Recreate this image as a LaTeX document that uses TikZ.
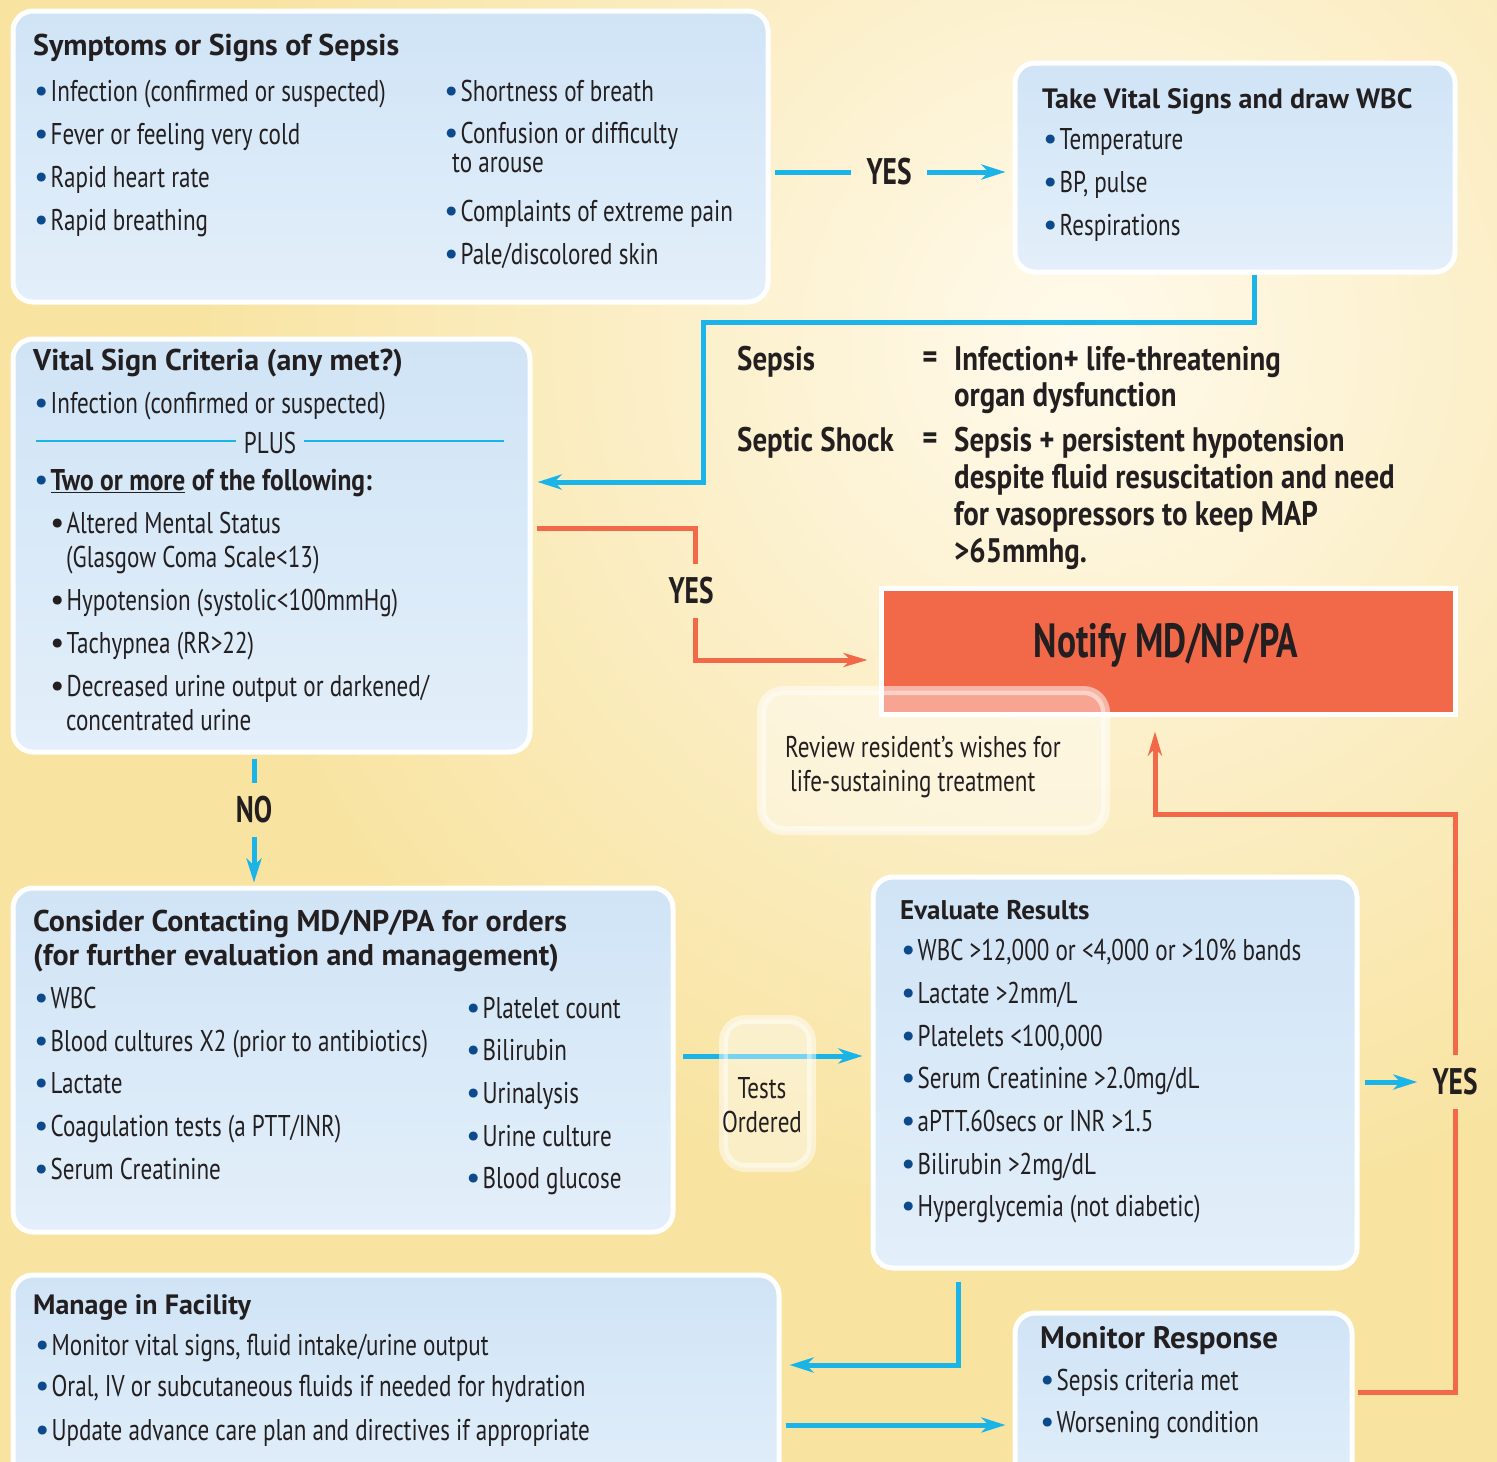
\documentclass[tikz,border=0pt]{standalone}
\usepackage{fontspec}
\setmainfont{PT Sans}[FakeStretch=0.77]
\newfontfamily\headfont{PT Sans}
\newfontfamily\condfont{PT Sans}[FakeStretch=0.74]
\newfontfamily\deffont{PT Sans}[FakeStretch=0.85]
\newfontfamily\bulfont{PT Sans}
\usepackage{tikz}
\usetikzlibrary{arrows.meta, calc, positioning}
\definecolor{bgyellow}{HTML}{F8E3A0}
\definecolor{bglight}{HTML}{FFFAEC}
\definecolor{boxtop}{HTML}{D0E4F6}
\definecolor{boxbot}{HTML}{E3EFFA}
\definecolor{flowblue}{HTML}{1AB4E9}
\definecolor{flowred}{HTML}{F2694A}
\definecolor{bulblue}{HTML}{0D4A8C}
\definecolor{ink}{HTML}{231F20}
\newcommand{\bul}{{\bulfont\color{bulblue}\fontsize{32}{32}\selectfont •}\hspace{2pt}}
\newcommand{\dotb}{{\bulfont\color{ink}\fontsize{32}{32}\selectfont •}\hspace{2pt}}
\tikzstyle{box} = [rectangle, rounded corners=20pt, draw=white, line width=5pt, top color=boxtop, bottom color=boxbot, anchor=north west, inner sep=0pt]
\tikzstyle{note} = [rectangle, rounded corners=22pt, draw=white, draw opacity=0.5, line width=9pt, fill=white, fill opacity=0.4, anchor=north west, inner sep=0pt]
\tikzstyle{alert} = [rectangle, draw=white, line width=5pt, fill=flowred, anchor=north west, inner sep=0pt]
\tikzstyle{txt} = [anchor=mid west, yshift=-7.5pt, inner sep=0pt, text=ink, font=\fontsize{30}{34}\selectfont]
\tikzstyle{head} = [anchor=mid west, yshift=-7.5pt, inner sep=0pt, text=ink, font=\headfont\bfseries\fontsize{30}{34}\selectfont]
\tikzstyle{defn} = [anchor=mid west, yshift=-8pt, inner sep=0pt, text=ink, font=\deffont\bfseries\fontsize{34}{38}\selectfont]
\tikzstyle{lbl} = [inner xsep=15pt, inner ysep=13pt, text=ink, font=\condfont\bfseries\fontsize{37}{40}\selectfont]
\tikzstyle{bline} = [line width=5pt, draw=flowblue]
\tikzstyle{barrow} = [bline, -{Stealth[length=24pt,width=15pt,inset=7pt]}]
\tikzstyle{rline} = [line width=5pt, draw=flowred]
\tikzstyle{rarrow} = [rline, -{Stealth[length=24pt,width=14pt,inset=7pt]}]
\begin{document}
\begin{tikzpicture}[x=1pt, y=-1pt]
\useasboundingbox (0,0) rectangle (1497,1462);
\begin{scope}
\clip (0,0) rectangle (1497,1462);
\fill[bgyellow] (0,0) rectangle (1497,1462);
\shade[inner color=bglight, outer color=bgyellow] (1080,340) circle (900);

% boxes
\node (symp) [box, minimum width=755pt, minimum height=291pt] at (10.5,8.5) {};
\node (take) [box, minimum width=440pt, minimum height=209pt] at (1012.5,60.5) {};
\node (crit) [box, minimum width=517pt, minimum height=413pt] at (10.5,336.5) {};
\node (cons) [box, minimum width=660pt, minimum height=344pt] at (10.5,885.5) {};
\node (eval) [box, minimum width=484pt, minimum height=391pt] at (870.5,874.5) {};
\node (mng) [box, minimum width=766pt, minimum height=240pt] at (10.5,1272.5) {};
\node (mon) [box, minimum width=337pt, minimum height=200pt] at (1012.5,1310.5) {};
\node (notify) [alert, minimum width=574pt, minimum height=126pt] at (878.5,585.5) {};

% labels on the connectors
\node (yes1) [lbl] at (889,172) {YES};
\node (yes2) [lbl] at (691,591) {YES};
\node (no) [lbl] at (254,810) {NO};
\node (yes3) [lbl] at (1455,1082) {YES};

% connectors
\draw[bline, shorten <=4pt] (symp.east |- yes1) -- (yes1.west);
\draw[barrow, shorten >=7pt] (yes1.east) -- (take.west |- yes1);
\draw[barrow, shorten >=5pt] ([xshift=19pt]take.south) |- (703,322) |- (crit.east |- 0,482);
\draw[rline, shorten <=4pt] (crit.east |- 0,528) -| (yes2.north -| 695,0);
\draw[rarrow, shorten >=11pt] (yes2.south -| 695,0) |- (notify.west |- 0,660);
\draw[bline, shorten <=4pt] (crit.south -| no) -- (no.north);
\draw[barrow, shorten >=3pt] (no.south) -- (cons.north -| no);
\draw[barrow, shorten <=7pt, shorten >=8pt] (cons.east |- 0,1056) -- (eval.west |- 0,1056);
\draw[barrow, shorten <=5pt] (eval.east |- yes3) -- (yes3.west);
\draw[rline, shorten <=3pt] (mon.east |- 0,1392) -| (yes3.south);
\draw[rarrow, shorten >=15pt] (yes3.north) |- (1155,814) -- (notify.south -| 1155,0);
\draw[barrow, shorten <=11pt, shorten >=8pt] (eval.south -| 958,0) |- (mng.east |- 0,1365);
\draw[barrow, shorten <=4pt, shorten >=7pt] (mng.east |- 0,1425) -- (mon.west |- 0,1425);

% side notes
\node (tests) [note, minimum width=88pt, minimum height=148pt] at (719,1015) {};
\node (review) [note, minimum width=344pt, minimum height=140pt] at (757,686) {};
\node (tests-1) [txt, anchor=center, yshift=7.5pt] at (762,1088) {Tests};
\node (tests-2) [txt, anchor=center, yshift=7.5pt] at (762,1122) {Ordered};
\node (review-1) [txt] at (785,747) {Review resident’s wishes for};
\node (review-2) [txt] at (790,781) {life-sustaining treatment};
\node (notify-t) [lbl, font=\condfont\bfseries\fontsize{48}{50}\selectfont] at (1166,645) {Notify MD/NP/PA};

% symptoms
\node (symp-h) [head] at (33,45) {Symptoms or Signs of Sepsis};
\node (symp-1) [txt] at (34,91) {\bul Infection (confirmed or suspected)};
\node (symp-2) [txt] at (34,134) {\bul Fever or feeling very cold};
\node (symp-3) [txt] at (34,177) {\bul Rapid heart rate};
\node (symp-4) [txt] at (34,220) {\bul Rapid breathing};
\node (symp-5) [txt] at (444,91) {\bul Shortness of breath};
\node (symp-6) [txt] at (444,133) {\bul Confusion or difficulty};
\node (symp-7) [txt] at (452,162) {to arouse};
\node (symp-8) [txt] at (444,211) {\bul Complaints of extreme pain};
\node (symp-9) [txt] at (444,254) {\bul Pale/discolored skin};

% vital signs
\node (take-h) [head, font=\headfont\bfseries\fontsize{28}{32}\selectfont] at (1042,98) {Take Vital Signs and draw WBC};
\node (take-1) [txt] at (1043,139) {\bul Temperature};
\node (take-2) [txt] at (1043,182) {\bul BP, pulse};
\node (take-3) [txt] at (1043,225) {\bul Respirations};

% definitions
\node (def-1) [defn] at (737,360) {Sepsis};
\node (eq-1) [defn, anchor=center, yshift=8pt] at (930,360) {=};
\node (def-2) [defn] at (954,360) {Infection+ life-threatening};
\node (def-3) [defn] at (954,396) {organ dysfunction};
\node (def-4) [defn] at (737,441) {Septic Shock};
\node (eq-2) [defn, anchor=center, yshift=8pt] at (930,441) {=};
\node (def-5) [defn] at (954,441) {Sepsis + persistent hypotension};
\node (def-6) [defn] at (954,478) {despite fluid resuscitation and need};
\node (def-7) [defn] at (954,515) {for vasopressors to keep MAP};
\node (def-8) [defn] at (954,552) {>65mmhg.};

% criteria
\node (crit-h) [head] at (33,360) {Vital Sign Criteria (any met?)};
\node (crit-1) [txt] at (34,403) {\bul Infection (confirmed or suspected)};
\node (plus) [txt, anchor=center, yshift=7.5pt] at (270,443) {PLUS};
\draw[flowblue, line width=2pt] (36,441) -- ([xshift=-8pt]plus.west |- 0,441);
\draw[flowblue, line width=2pt] ([xshift=8pt]plus.east |- 0,441) -- (504,441);
\node (crit-2) [txt] at (34,480) {\bul{\deffont\bfseries\fontsize{30}{34}\selectfont\underline{Two or more} of the following:}};
\node (crit-3) [txt] at (50,523) {\dotb Altered Mental Status};
\node (crit-4) [txt] at (66,557) {(Glasgow Coma Scale<13)};
\node (crit-5) [txt] at (50,600) {\dotb Hypotension (systolic<100mmHg)};
\node (crit-6) [txt] at (50,643) {\dotb Tachypnea (RR>22)};
\node (crit-7) [txt] at (50,686) {\dotb Decreased urine output or darkened/};
\node (crit-8) [txt] at (66,720) {concentrated urine};

% consider contacting
\node (cons-h1) [head] at (33,921) {Consider Contacting MD/NP/PA for orders};
\node (cons-h2) [head] at (33,955) {(for further evaluation and management)};
\node (cons-1) [txt] at (34,998) {\bul WBC};
\node (cons-2) [txt] at (34,1041) {\bul Blood cultures X2 (prior to antibiotics)};
\node (cons-3) [txt] at (34,1083) {\bul Lactate};
\node (cons-4) [txt] at (34,1126) {\bul Coagulation tests (a PTT/INR)};
\node (cons-5) [txt] at (34,1169) {\bul Serum Creatinine};
\node (cons-6) [txt] at (466,1008) {\bul Platelet count};
\node (cons-7) [txt] at (466,1050) {\bul Bilirubin};
\node (cons-8) [txt] at (466,1093) {\bul Urinalysis};
\node (cons-9) [txt] at (466,1136) {\bul Urine culture};
\node (cons-10) [txt] at (466,1178) {\bul Blood glucose};

% evaluate
\node (eval-h) [head, font=\headfont\bfseries\fontsize{27}{30}\selectfont] at (900,909) {Evaluate Results};
\node (eval-1) [txt] at (901,950) {\bul WBC >12,000 or <4,000 or >10\% bands};
\node (eval-2) [txt] at (901,993) {\bul Lactate >2mm/L};
\node (eval-3) [txt] at (901,1036) {\bul Platelets <100,000};
\node (eval-4) [txt] at (901,1078) {\bul Serum Creatinine >2.0mg/dL};
\node (eval-5) [txt] at (901,1121) {\bul aPTT.60secs or INR >1.5};
\node (eval-6) [txt] at (901,1164) {\bul Bilirubin >2mg/dL};
\node (eval-7) [txt] at (901,1206) {\bul Hyperglycemia (not diabetic)};

% manage
\node (mng-h) [head, font=\headfont\bfseries\fontsize{28}{32}\selectfont] at (33,1304) {Manage in Facility};
\node (mng-1) [txt] at (35,1345) {\bul Monitor vital signs, fluid intake/urine output};
\node (mng-2) [txt] at (35,1386) {\bul Oral, IV or subcutaneous fluids if needed for hydration};
\node (mng-3) [txt] at (35,1430) {\bul Update advance care plan and directives if appropriate};

% monitor
\node (mon-h) [head, font=\headfont\bfseries\fontsize{31}{34}\selectfont] at (1040,1338) {Monitor Response};
\node (mon-1) [txt] at (1040,1380) {\bul Sepsis criteria met};
\node (mon-2) [txt] at (1040,1422) {\bul Worsening condition};
\end{scope}
\end{tikzpicture}
\end{document}
